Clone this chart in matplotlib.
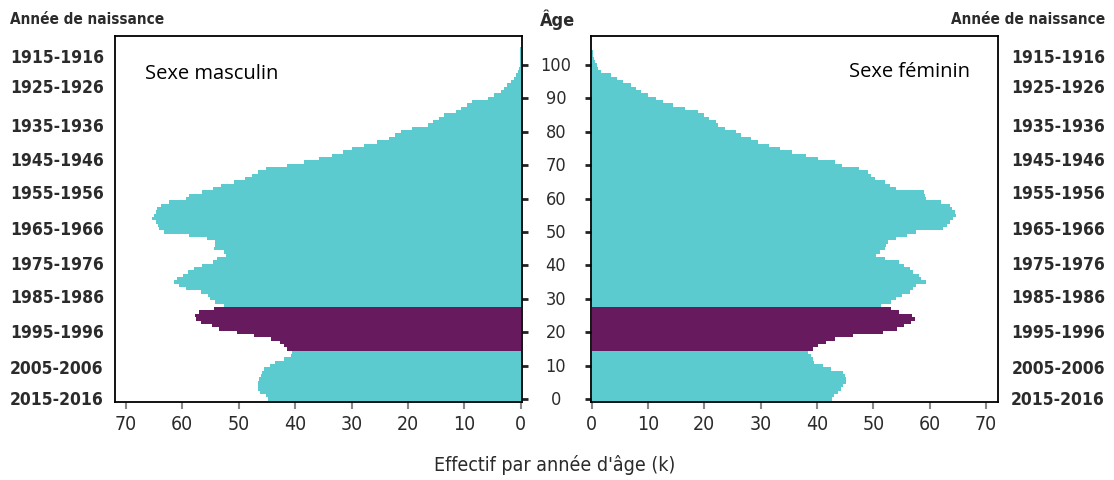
import numpy as np
import matplotlib
matplotlib.use("Agg")
from matplotlib import pyplot as plt
from matplotlib.transforms import blended_transform_factory

# population by single year of age (thousands), ages 0..105
ages = np.arange(0, 106)
hommes = [44.8, 45.2, 46.2, 46.5, 46.6, 46.5, 46.4, 46.1, 45.8, 45.5,
          44.5, 43.5, 42.0, 40.8, 40.5, 41.5, 42.0, 42.6, 44.3, 47.3,
          50.2, 53.5, 54.7, 56.7, 57.6, 57.8, 57.0, 54.4, 52.6, 54.1,
          55.0, 55.5, 56.7, 59.4, 60.5, 61.5, 61.0, 59.8, 59.0, 57.9,
          56.4, 54.5, 53.8, 52.3, 52.6, 54.4, 54.2, 54.1, 55.6, 58.8,
          63.2, 64.1, 64.3, 64.7, 65.3, 65.0, 64.6, 64.4, 63.8, 62.3,
          59.4, 58.8, 56.4, 54.5, 53.2, 50.8, 48.8, 47.6, 46.5, 45.2,
          41.4, 38.4, 35.8, 33.4, 31.5, 30.0, 27.8, 25.5, 23.4, 22.3,
          21.3, 19.2, 16.5, 15.5, 14.5, 13.6, 11.5, 10.6, 9.5, 8.6,
          5.9, 4.8, 3.5, 3.0, 2.4, 1.8, 1.2, 0.8, 0.5, 0.3,
          0.2, 0.15, 0.1, 0.1, 0.1, 0.1]
femmes = [42.6, 43.0, 43.7, 44.2, 44.6, 45.2, 45.2, 45.0, 44.6, 42.5,
          41.0, 39.5, 39.2, 38.9, 38.4, 39.2, 40.1, 41.5, 43.1, 46.3,
          51.7, 54.2, 55.5, 56.7, 57.4, 56.8, 54.5, 53.1, 51.4, 53.1,
          54.0, 55.0, 56.4, 57.0, 57.6, 59.3, 58.5, 58.0, 57.0, 56.4,
          55.5, 54.6, 52.0, 50.5, 51.2, 52.0, 52.3, 52.5, 54.0, 56.0,
          57.6, 62.3, 63.0, 63.6, 64.2, 64.7, 64.5, 64.0, 63.5, 62.0,
          59.3, 59.2, 59.0, 54.0, 53.0, 52.0, 50.2, 49.6, 49.0, 47.5,
          44.5, 43.1, 40.1, 38.0, 35.5, 33.5, 31.5, 29.5, 28.3, 26.5,
          25.7, 23.6, 22.5, 22.0, 20.8, 20.0, 18.9, 16.5, 14.4, 12.6,
          11.5, 10.0, 8.8, 7.8, 7.0, 5.5, 4.5, 3.5, 1.7, 1.2,
          1.0, 0.6, 0.4, 0.3, 0.2, 0.1]
age_surligne = (15, 27)  # highlighted ages

age_ticks = list(range(0, 101, 10))
x_ticks = list(range(0, 71, 10))
annees = ['1915-1916', '1925-1926', '1935-1936', '1945-1946', '1955-1956',
          '1965-1966', '1975-1976', '1985-1986', '1995-1996', '2005-2006',
          '2015-2016']
annees_pos = [102.4, 93.4, 81.7, 71.6, 61.7, 50.9, 40.4, 30.5, 20.1, 9.3, 0]

teal = '#5ccbcf'
violet = '#681a5e'
txt = '#2b2b2b'
narrow = dict(fontfamily='DejaVu Sans', fontstretch='condensed')

colors = [violet if age_surligne[0] <= a <= age_surligne[1] else teal for a in ages]

fig = plt.figure(figsize=(11.14, 4.81), dpi=100)
ax_l = fig.add_axes([0.1032, 0.1622, 0.3654, 0.7609])
ax_r = fig.add_axes([0.5305, 0.1622, 0.3654, 0.7609])

ax_l.barh(ages, hommes, height=1.0, color=colors, linewidth=0)
ax_r.barh(ages, femmes, height=1.0, color=colors, linewidth=0)

ax_l.set_xlim(71.9, -0.2)
ax_r.set_xlim(-0.1, 72.1)
for ax in (ax_l, ax_r):
    ax.set_ylim(-0.9, 108.7)
    ax.set_xticks(x_ticks)
    ax.set_xticklabels([str(v) for v in x_ticks], fontsize=14, color=txt,
                       **narrow)
    ax.tick_params(axis='x', length=5, width=1.5, color='#888888', pad=4)
    ax.set_yticks(age_ticks)
    ax.set_yticklabels([])
    ax.tick_params(axis='y', length=4, width=2, color='#222222')
    for s in ax.spines.values():
        s.set_linewidth(1.3)
        s.set_color('black')

ax_l.yaxis.tick_right()
ax_r.yaxis.tick_left()

ax_l.text(0.075, 0.9, 'Sexe masculin', transform=ax_l.transAxes,
          fontsize=14.5, color='black', va='center', fontfamily='Open Sans')
ax_r.text(0.93, 0.905, 'Sexe féminin', transform=ax_r.transAxes,
          fontsize=14.5, color='black', va='center', ha='right',
          fontfamily='Open Sans')

# age labels in the middle
tr = blended_transform_factory(fig.transFigure, ax_l.transData)
for a in age_ticks:
    fig.text(556 / 1114, a, str(a), transform=tr, ha='center', va='center',
             fontsize=13, color=txt, **narrow)
fig.text(557 / 1114, 1 - 20 / 481, 'Âge', ha='center', va='center',
         fontsize=13, color=txt, fontweight='bold', **narrow)

# birth-year labels on both sides
for lab, p in zip(annees, annees_pos):
    fig.text(10 / 1114, p, lab, transform=tr, ha='left', va='center',
             fontsize=12.5, color=txt, fontweight='bold', **narrow)
    fig.text(1105 / 1114, p, lab, transform=tr, ha='right', va='center',
             fontsize=12.5, color=txt, fontweight='bold', **narrow)
fig.text(10 / 1114, 1 - 20 / 481, 'Année de naissance', ha='left',
         va='center', fontsize=11, color=txt, fontweight='bold', **narrow)
fig.text(1105 / 1114, 1 - 20 / 481, 'Année de naissance', ha='right',
         va='center', fontsize=11, color=txt, fontweight='bold', **narrow)

fig.text(555 / 1114, 1 - 465 / 481, "Effectif par année d'âge (k)",
         ha='center', va='center', fontsize=14, color=txt, **narrow)

fig.savefig('out.png', dpi=100)
